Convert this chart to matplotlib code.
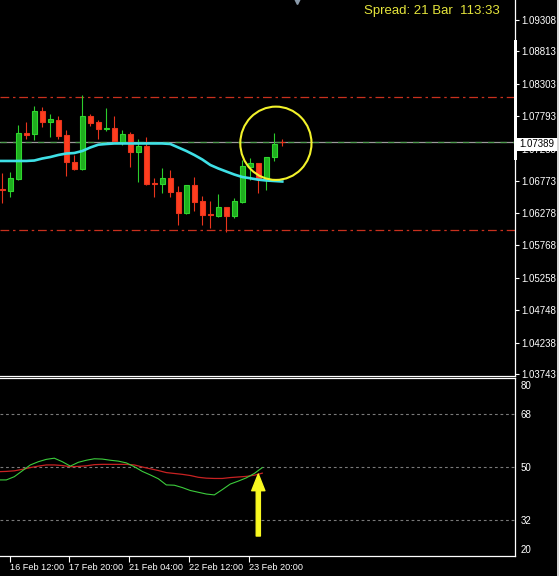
import numpy as np
import matplotlib
matplotlib.use("Agg")
import matplotlib.pyplot as plt
from matplotlib.patches import Ellipse, Rectangle

plt.rcParams["font.family"] = ["Liberation Sans", "DejaVu Sans"]

# ---------------------------------------------------------------
# Candles (H4 bars)
# ---------------------------------------------------------------
opens = [1.06647, 1.06625, 1.06813, 1.07536, 1.07511, 1.07873, 1.07709, 1.07731, 1.07496,
         1.07071, 1.06970, 1.07799, 1.07700, 1.07590, 1.07606, 1.07390, 1.07516, 1.07238,
         1.07327, 1.06741, 1.06735, 1.06820, 1.06599, 1.06269, 1.06709, 1.06458, 1.06258,
         1.06227, 1.06364, 1.06227, 1.06452, 1.07002, 1.07055, 1.06804, 1.07150, 1.07395]
highs = [1.06898, 1.06914, 1.07657, 1.07700, 1.07956, 1.07936, 1.07830, 1.07799, 1.07579,
         1.07186, 1.08129, 1.07830, 1.07736, 1.07925, 1.07799, 1.07579, 1.07552, 1.07433,
         1.07474, 1.06820, 1.06977, 1.06950, 1.06703, 1.06719, 1.06835, 1.06541, 1.06463,
         1.06573, 1.06364, 1.06510, 1.07107, 1.07134, 1.07055, 1.07159, 1.07536, 1.07433]
lows = [1.06436, 1.06521, 1.06793, 1.07437, 1.07422, 1.07631, 1.07474, 1.07437, 1.06860,
        1.06950, 1.06950, 1.07642, 1.07433, 1.07568, 1.07370, 1.07343, 1.07002, 1.06766,
        1.06719, 1.06530, 1.06593, 1.06530, 1.06085, 1.06258, 1.06310, 1.06085, 1.06034,
        1.06216, 1.05976, 1.06191, 1.06427, 1.06793, 1.06593, 1.06636, 1.07096, 1.07327]
closes = [1.06636, 1.06820, 1.07527, 1.07505, 1.07873, 1.07709, 1.07752, 1.07489, 1.07071,
          1.06970, 1.07799, 1.07694, 1.07590, 1.07606, 1.07411, 1.07516, 1.07238, 1.07327,
          1.06730, 1.06735, 1.06820, 1.06599, 1.06269, 1.06719, 1.06452, 1.06247, 1.06247,
          1.06364, 1.06227, 1.06458, 1.07013, 1.07055, 1.06804, 1.07150, 1.07354, 1.07389]

# moving average (starts one bar left of the visible window)
ma_start = -1
ma_values = [1.07092, 1.07092, 1.07092, 1.07092, 1.07092, 1.07099, 1.07131, 1.07154, 1.07186,
             1.07209, 1.07217, 1.07249, 1.07304, 1.07348, 1.07359, 1.07367, 1.07367, 1.07367,
             1.07367, 1.07367, 1.07367, 1.07367, 1.07359, 1.07304, 1.07249, 1.07186, 1.07115,
             1.07029, 1.06974, 1.06926, 1.06879, 1.06840, 1.06820, 1.06798, 1.06785, 1.06777,
             1.06769]

bid = 1.07389
ask_line = 1.07395
level_hi = 1.08098
level_lo = 1.06007

price_ticks = [1.09308, 1.08813, 1.08303, 1.07793, 1.07283, 1.06773, 1.06278,
               1.05768, 1.05258, 1.04748, 1.04238, 1.03743]

# indicator window (RSI-style line + signal)
ind_main = [45.6, 45.6, 46.7, 48.7, 50.7, 51.8, 52.6, 53.0, 51.8, 50.3, 51.6, 52.3,
            52.8, 52.7, 52.3, 52.0, 51.4, 50.1, 48.5, 47.3, 46.0, 43.9, 43.8, 43.0,
            42.0, 41.4, 40.8, 40.5, 42.3, 44.2, 45.2, 46.3, 47.8, 49.8]
ind_signal = [48.4, 48.5, 48.7, 49.2, 49.8, 50.3, 50.7, 50.7, 50.5, 50.1, 50.2, 50.4,
              50.8, 50.9, 50.9, 50.9, 50.9, 50.7, 50.0, 49.4, 48.8, 48.1, 47.8, 47.5,
              47.1, 46.5, 46.2, 46.1, 46.1, 46.4, 46.6, 46.8, 47.2, 47.9]
ind_levels = [68, 50, 32]
ind_tick_labels = ["80", "68", "50", "32", "20"]

date_labels = ["16 Feb 12:00", "17 Feb 20:00", "21 Feb 04:00", "22 Feb 12:00", "23 Feb 20:00"]
date_pos = [0.96, 8.34, 15.84, 23.34, 30.84]

# ---------------------------------------------------------------
W, H = 559, 576
fig = plt.figure(figsize=(W / 100, H / 100), dpi=100, facecolor="black")

ax = fig.add_axes([0, 1 - 376 / H, 515 / W, 376 / H], facecolor="black")
ax2 = fig.add_axes([0, 1 - 556 / H, 515 / W, 178 / H], facecolor="black")

xlim = (-0.29, 64.09)

# ---- candles ----
o = np.array(opens)
h = np.array(highs)
l = np.array(lows)
c = np.array(closes)
x = np.arange(len(o))
up = c >= o
col_up, col_dn = "#2ed62e", "#ff3d1f"
wick_cols = np.where(up, "#2ccc2c", "#e8341c")
ax.vlines(x, l, h, colors=wick_cols, linewidth=0.8, zorder=3)
ax.bar(x[up], (c - o)[up], bottom=o[up], width=0.62, color="#1fae1f",
       edgecolor=col_up, linewidth=0.8, zorder=4)
ax.bar(x[~up], (o - c)[~up], bottom=c[~up], width=0.62, color=col_dn,
       edgecolor="#e8341c", linewidth=0.8, zorder=4)

ma_x = np.arange(len(ma_values)) + ma_start
ax.plot(ma_x, ma_values, color="#3fe0e6", linewidth=1.9, zorder=5)

ax.axhline(bid, color="#9a9a9a", linewidth=0.9, zorder=2)
ax.axhline(ask_line, color="#4b9a4b", linewidth=0.9, linestyle=(0, (5, 5)), zorder=2)
for lv in (level_hi, level_lo):
    ax.axhline(lv, color="#c8301e", linewidth=0.9, linestyle=(0, (7, 3, 2, 3)), zorder=2)

# yellow highlight circle round the last bars
ax.add_patch(Ellipse((34.2, 1.07370), 8.9, 0.01152, fill=False,
                     edgecolor="#f2f22a", linewidth=1.5, zorder=6))

ax.set_xlim(*xlim)
ax.set_ylim(1.037117, 1.096224)
ax.yaxis.tick_right()
ax.set_yticks(price_ticks)
ax.set_yticklabels([f"{p:.5f}" for p in price_ticks])
ax.tick_params(axis="y", colors="white", length=3, width=0.8, pad=1.5, labelsize=7)
ax.set_xticks([])
for s in ("top", "left"):
    ax.spines[s].set_visible(False)
for s in ("right", "bottom"):
    ax.spines[s].set_color("white")
    ax.spines[s].set_linewidth(0.9)

# ---- indicator ----
ind_x = np.arange(len(ind_main)) - 0.5
ax2.plot(ind_x, ind_signal, color="#c82222", linewidth=0.9, zorder=3)
ax2.plot(ind_x, ind_main, color="#3ccc3c", linewidth=0.8, zorder=4)
for lv in ind_levels:
    ax2.axhline(lv, color="#7a7a7a", linewidth=0.8, linestyle=(0, (2.5, 2.5)), zorder=1)

ax2.annotate("", xy=(32.0, 47.6), xytext=(32.0, 26.5),
             arrowprops=dict(arrowstyle="simple,head_length=1.2,head_width=0.95,tail_width=0.3",
                             color="#f8f820", mutation_scale=10, shrinkA=0, shrinkB=0),
             zorder=6)

ax2.set_xlim(*xlim)
ax2.set_ylim(19.7, 80.3)
ax2.yaxis.tick_right()
ax2.set_yticks([77.9, 68, 50, 32, 22.1])
ax2.set_yticklabels(ind_tick_labels)
ax2.tick_params(axis="y", colors="white", length=0, pad=4, labelsize=7)
ax2.set_xticks(date_pos)
ax2.set_xticklabels(date_labels)
ax2.tick_params(axis="x", colors="white", length=4, width=0.8, pad=1, labelsize=6.6)
for lab in ax2.get_xticklabels():
    lab.set_horizontalalignment("left")
ax2.spines["left"].set_visible(False)
for s in ("top", "right", "bottom"):
    ax2.spines[s].set_color("white")
    ax2.spines[s].set_linewidth(0.9)

# ---- terminal furniture ----
fig.text(500 / W, 1 - 11 / H, "Spread: 21 Bar  113:33", color="#e6e63c",
         fontsize=9.5, ha="right", va="center")
fig.patches.append(Rectangle((514 / W, 1 - 160 / H), 3 / W, 120 / H, transform=fig.transFigure,
                             facecolor="white", edgecolor="none", zorder=3))
fig.patches.append(Rectangle((516 / W, 1 - 151 / H), 41 / W, 13 / H, transform=fig.transFigure,
                             facecolor="white", edgecolor="none", zorder=3))
fig.text(519 / W, 1 - 144 / H, f"{bid:.5f}", color="black", fontsize=7,
         ha="left", va="center", zorder=4)
fig.patches.append(Rectangle((557 / W, 0), 2 / W, 1, transform=fig.transFigure,
                             facecolor="#d8d8d8", edgecolor="none", zorder=3))
ax.plot([36.8], [1.096224], marker="v", markersize=6, color="#8a9aaa",
        clip_on=False, zorder=7)

fig.savefig("out.png", dpi=100, facecolor="black")
